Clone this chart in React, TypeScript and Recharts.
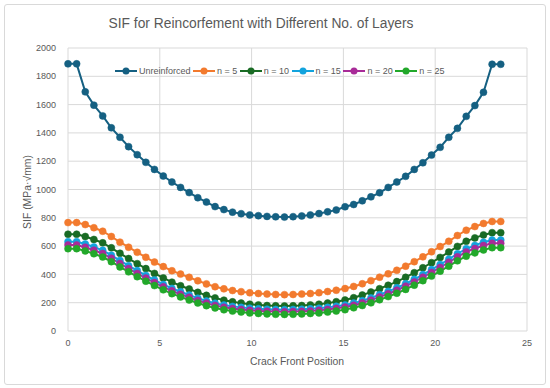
import { CartesianGrid, Line, LineChart, XAxis, YAxis } from 'recharts';

const xPos = [
  0, 0.47, 0.94, 1.41, 1.89, 2.36, 2.83, 3.3, 3.77, 4.24,
  4.71, 5.19, 5.66, 6.13, 6.6, 7.07, 7.54, 8.01, 8.49, 8.96,
  9.43, 9.9, 10.37, 10.84, 11.31, 11.79, 12.26, 12.73, 13.2, 13.67,
  14.14, 14.61, 15.09, 15.56, 16.03, 16.5, 16.97, 17.44, 17.91, 18.39,
  18.86, 19.33, 19.8, 20.27, 20.74, 21.21, 21.69, 22.16, 22.63, 23.1,
  23.57
];

const unreinforced = [
  1888, 1888, 1690, 1596, 1520, 1436, 1369, 1303, 1246, 1192,
  1142, 1095, 1053, 1015, 978, 942, 911, 879, 858, 840,
  829, 820, 815, 810, 807, 805, 808, 813, 820, 830,
  842, 855, 878, 894, 920, 948, 977, 1015, 1053, 1093,
  1142, 1189, 1243, 1298, 1369, 1432, 1517, 1593, 1687, 1885,
  1885
];

const n5 = [
  766, 766, 752, 730, 705, 668, 628, 592, 556, 521,
  487, 455, 426, 402, 379, 355, 333, 313, 298, 286,
  278, 270, 265, 261, 258, 257, 258, 261, 265, 271,
  279, 288, 300, 315, 334, 356, 380, 404, 429, 458,
  490, 524, 560, 597, 634, 675, 712, 738, 760, 774,
  774
];

const n10 = [
  684, 684, 668, 647, 623, 588, 549, 512, 476, 441,
  407, 375, 345, 320, 297, 273, 252, 234, 218, 206,
  197, 189, 184, 180, 178, 177, 178, 180, 184, 189,
  197, 207, 219, 235, 254, 275, 299, 323, 349, 379,
  412, 447, 483, 520, 558, 598, 634, 658, 679, 695,
  695
];

const n15 = [
  631, 631, 615, 594, 570, 536, 498, 462, 427, 393,
  360, 329, 301, 277, 254, 232, 212, 196, 183, 174,
  167, 161, 157, 154, 152, 151, 152, 154, 157, 161,
  167, 175, 184, 197, 214, 234, 257, 280, 305, 334,
  365, 399, 434, 470, 507, 546, 581, 605, 627, 643,
  643
];

const n20 = [
  608, 608, 592, 571, 548, 514, 477, 441, 407, 374,
  342, 312, 284, 260, 238, 216, 197, 181, 168, 159,
  152, 146, 142, 139, 137, 136, 137, 139, 142, 146,
  152, 160, 169, 182, 199, 218, 241, 263, 288, 317,
  347, 380, 414, 449, 486, 524, 559, 583, 604, 620,
  620
];

const n25 = [
  582, 582, 566, 546, 523, 490, 453, 418, 384, 352,
  321, 291, 264, 241, 219, 198, 179, 163, 150, 141,
  134, 128, 124, 121, 118, 117, 118, 121, 124, 128,
  134, 141, 151, 164, 180, 199, 221, 243, 267, 294,
  324, 356, 388, 423, 458, 496, 529, 552, 573, 589,
  589
];

const xTicks = [0, 5, 10, 15, 20, 25];
const yTicks = [0, 200, 400, 600, 800, 1000, 1200, 1400, 1600, 1800, 2000];

const series = [
  { key: 'unreinforced', name: 'Unreinforced', color: '#156082', values: unreinforced },
  { key: 'n5', name: 'n = 5', color: '#F27A2E', values: n5 },
  { key: 'n10', name: 'n = 10', color: '#196B24', values: n10 },
  { key: 'n15', name: 'n = 15', color: '#12A3DD', values: n15 },
  { key: 'n20', name: 'n = 20', color: '#A82B98', values: n20 },
  { key: 'n25', name: 'n = 25', color: '#22A82A', values: n25 }
];

const data = xPos.map((x, i) => {
  const row: Record<string, number> = { x };
  series.forEach((s) => {
    row[s.key] = s.values[i];
  });
  return row;
});

const font = '"Liberation Sans", Arial, sans-serif';
const grey = '#595959';

function LegendRow() {
  return (
    <div style={{ position: 'absolute', left: 115, top: 66, display: 'flex', alignItems: 'center', fontFamily: font, fontSize: 9, color: grey }}>
      {series.map((s) => (
        <div key={s.key} style={{ display: 'flex', alignItems: 'center', marginRight: 2.5 }}>
          <svg width={22} height={10}>
            <line x1={0} y1={5} x2={22} y2={5} stroke={s.color} strokeWidth={2} />
            <circle cx={11} cy={5} r={3.5} fill={s.color} />
          </svg>
          <span style={{ marginLeft: 2, lineHeight: '10px' }}>{s.name}</span>
        </div>
      ))}
    </div>
  );
}

export default function App() {
  return (
    <div style={{ position: 'absolute', left: 0, top: 0, width: 550, height: 388, background: '#fff' }}>
      <div style={{ position: 'absolute', left: 4, top: 4, width: 540, height: 379, border: '1px solid #d9d9d9', borderRadius: 3 }} />
      <div style={{ position: 'absolute', left: 0, top: 16, width: 522, textAlign: 'center', fontFamily: font, fontSize: 13.8, color: grey }}>
        SIF for Reincorfement with Different No. of Layers
      </div>
      <LineChart width={550} height={388} data={data} margin={{ top: 48, right: 23, bottom: 27, left: 0 }}>
        <CartesianGrid stroke='#d9d9d9' strokeWidth={1} />
        <XAxis
          dataKey='x'
          type='number'
          domain={[0, 25]}
          ticks={xTicks}
          height={30}
          axisLine={false}
          tickLine={false}
          tickSize={6}
          tickMargin={3}
          tick={{ fill: grey, fontSize: 9, fontFamily: font }}
        />
        <YAxis
          type='number'
          domain={[0, 2000]}
          ticks={yTicks}
          width={68}
          axisLine={false}
          tickLine={false}
          tickSize={6}
          tickMargin={6}
          tick={{ fill: grey, fontSize: 9, fontFamily: font }}
        />
        {series.map((s) => (
          <Line
            key={s.key}
            dataKey={s.key}
            name={s.name}
            stroke={s.color}
            strokeWidth={2}
            dot={{ r: 3.5, fill: s.color, stroke: s.color, strokeWidth: 0.5 }}
            activeDot={false}
            isAnimationActive={false}
          />
        ))}
      </LineChart>
      <LegendRow />
      <div style={{ position: 'absolute', left: 197, top: 356, width: 200, textAlign: 'center', fontFamily: font, fontSize: 10.4, color: grey }}>
        Crack Front Position
      </div>
      <div
        style={{
          position: 'absolute',
          left: 27,
          top: 192,
          transform: 'translate(-50%, -50%) rotate(-90deg)',
          whiteSpace: 'nowrap',
          fontFamily: font,
          fontSize: 10.4,
          color: grey
        }}
      >
        SIF (MPa·√mm)
      </div>
    </div>
  );
}
